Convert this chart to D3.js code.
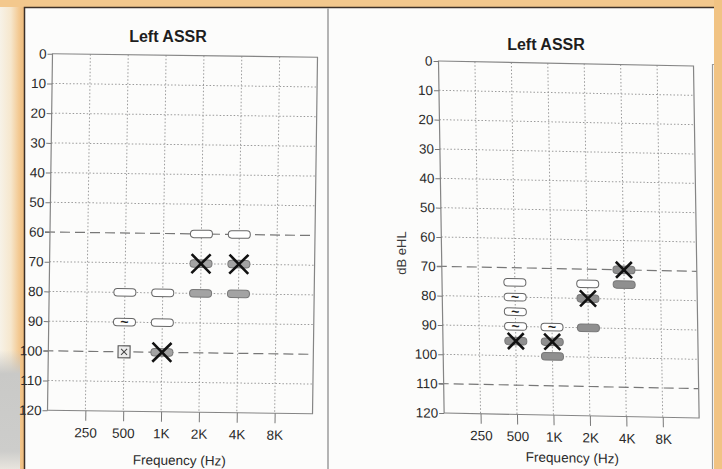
<!DOCTYPE html>
<html>
<head>
<meta charset="utf-8">
<script src="https://cdn.jsdelivr.net/npm/d3@7"></script>
<style>
body { margin: 0; background: #fff; }
svg { display: block; font-family: "Liberation Sans", Arial, sans-serif; }
</style>
</head>
<body>
<svg width="722" height="469"></svg>
<script>
// axes
const freqs = [250, 500, 1000, 2000, 4000, 8000];
const freqLabels = ["250", "500", "1K", "2K", "4K", "8K"];
const dbTicks = [0, 10, 20, 30, 40, 50, 60, 70, 80, 90, 100, 110, 120];

// left chart markers: [freq, dB]
const leftOpen = [[2000, 60], [4000, 60], [500, 80], [1000, 80], [1000, 90]];
const leftOpenTilde = [[500, 90]];
const leftFilled = [[2000, 80], [4000, 80]];
const leftFilledX = [[2000, 70], [4000, 70], [1000, 100]];
const leftBoxed = [[500, 100]];
const leftDashed = [60, 100];

// right chart markers
const rightOpen = [[500, 75], [2000, 75]];
const rightOpenTilde = [[500, 80], [500, 85], [500, 90], [1000, 90]];
const rightFilled = [[1000, 100], [2000, 90], [4000, 75]];
const rightFilledX = [[500, 95], [1000, 95], [2000, 80], [4000, 70]];
const rightBoxed = [];
const rightDashed = [70, 110];

const svg = d3.select("svg");
const defs = svg.append("defs");

// --- photo background (paper, orange frame) ---
const gl = defs.append("linearGradient").attr("id", "leftEdge");
gl.append("stop").attr("offset", 0).attr("stop-color", "#f7f2e7");
gl.append("stop").attr("offset", 0.45).attr("stop-color", "#f6e7cd");
gl.append("stop").attr("offset", 0.8).attr("stop-color", "#f3c890");
gl.append("stop").attr("offset", 1).attr("stop-color", "#eebb7c");

const gg = defs.append("linearGradient").attr("id", "grayBlur")
    .attr("x1", 0).attr("y1", 0).attr("x2", 0).attr("y2", 1);
gg.append("stop").attr("offset", 0).attr("stop-color", "#c8c8c6").attr("stop-opacity", 0);
gg.append("stop").attr("offset", 0.2).attr("stop-color", "#c9c9c7").attr("stop-opacity", 1);
gg.append("stop").attr("offset", 0.85).attr("stop-color", "#cdcdcb").attr("stop-opacity", 1);
gg.append("stop").attr("offset", 1).attr("stop-color", "#e8e5de").attr("stop-opacity", 1);

svg.append("rect").attr("width", 722).attr("height", 469).attr("fill", "#fcfcfb");
svg.append("rect").attr("width", 24).attr("height", 469).attr("fill", "url(#leftEdge)");
svg.append("rect").attr("y", 350).attr("width", 20).attr("height", 119).attr("fill", "url(#grayBlur)");
svg.append("rect").attr("width", 722).attr("height", 7).attr("fill", "#f3c88d");
svg.append("rect").attr("x", 714).attr("width", 8).attr("height", 469).attr("fill", "#f1c383");
svg.append("path").attr("d", "M24.5,469V7.5H714").attr("fill", "none")
    .attr("stroke", "#3d3128").attr("stroke-width", 1.5);
svg.append("line").attr("x1", 328).attr("x2", 328).attr("y1", 8).attr("y2", 469)
    .attr("stroke", "#b4b4b4").attr("stroke-width", 2);
svg.append("path").attr("d", "M714,64.5H712.5V469").attr("fill", "none")
    .attr("stroke", "#9a9a9a").attr("stroke-width", 1.2);

// --- one audiogram ---
function drawPanel(p) {
    const x = d3.scaleLog().base(2).domain([125, 16000]).range([0, p.w]);
    const y = d3.scaleLinear().domain([0, 120]).range([0, p.h]);
    const g = svg.append("g").attr("transform", `matrix(${p.m.join(",")})`);

    // grid
    g.selectAll(".vgrid").data(freqs).enter().append("line")
        .attr("x1", d => x(d)).attr("x2", d => x(d)).attr("y1", 0).attr("y2", p.h)
        .attr("stroke", "#9a9a9a").attr("stroke-dasharray", "1.5,2");
    g.selectAll(".hgrid").data(dbTicks.filter(d => d > 0 && d < 120 && !p.dashed.includes(d))).enter().append("line")
        .attr("x1", 0).attr("x2", p.w).attr("y1", d => y(d)).attr("y2", d => y(d))
        .attr("stroke", "#9a9a9a").attr("stroke-dasharray", "1.5,2");
    g.selectAll(".dash").data(p.dashed).enter().append("line")
        .attr("x1", -5).attr("x2", p.w).attr("y1", d => y(d)).attr("y2", d => y(d))
        .attr("stroke", "#777").attr("stroke-width", 1.2).attr("stroke-dasharray", "10,5");

    // frame
    g.append("rect").attr("width", p.w).attr("height", p.h)
        .attr("fill", "none").attr("stroke", "#858585").attr("stroke-width", 1.2);

    // y axis
    const ya = g.append("g").call(d3.axisLeft(y).tickValues(dbTicks).tickSize(5).tickPadding(1));
    ya.select(".domain").remove();
    ya.selectAll("line").attr("stroke", "#777");
    ya.selectAll("text").attr("font-size", 13.5).attr("fill", "#2a2a2a")
        .attr("font-family", "Liberation Sans, Arial, sans-serif");

    // x axis
    const xa = g.append("g").attr("transform", `translate(0,${p.h})`)
        .call(d3.axisBottom(x).tickValues(freqs).tickFormat((d, i) => freqLabels[i]).tickSize(10).tickPadding(7));
    xa.select(".domain").remove();
    xa.selectAll("line").attr("stroke", "#777");
    xa.selectAll("text").attr("font-size", 13.5).attr("fill", "#2a2a2a")
        .attr("font-family", "Liberation Sans, Arial, sans-serif");

    g.append("text").attr("x", p.w / 2).attr("y", p.h + p.labelY).attr("text-anchor", "middle")
        .attr("font-size", 13.5).attr("fill", "#2a2a2a").text("Frequency (Hz)");

    // markers
    const rw = 22, rh = 7.5;
    function pills(data, fill, stroke) {
        g.selectAll(null).data(data).enter().append("rect")
            .attr("x", d => x(d[0]) - rw / 2).attr("y", d => y(d[1]) - rh / 2)
            .attr("width", rw).attr("height", rh).attr("rx", 3.5)
            .attr("fill", fill).attr("stroke", stroke).attr("stroke-width", 1);
    }
    pills(p.open, "#fff", "#666");
    pills(p.openTilde, "#fff", "#666");
    pills(p.filled, p.grey, "#777");
    pills(p.filledX, p.grey, "#777");

    g.selectAll(null).data(p.openTilde).enter().append("text")
        .attr("x", d => x(d[0])).attr("y", d => y(d[1]) + 4.5)
        .attr("text-anchor", "middle").attr("font-size", 14).attr("font-weight", "bold")
        .attr("fill", "#222").text("~");

    const s = p.xs;
    g.selectAll(null).data(p.filledX).enter().append("path")
        .attr("d", d => `M${x(d[0]) - s},${y(d[1]) - s}L${x(d[0]) + s},${y(d[1]) + s}M${x(d[0]) + s},${y(d[1]) - s}L${x(d[0]) - s},${y(d[1]) + s}`)
        .attr("stroke", "#111").attr("stroke-width", 2.6).attr("fill", "none");

    const b = g.selectAll(null).data(p.boxed).enter().append("g")
        .attr("transform", d => `translate(${x(d[0])},${y(d[1])})`);
    b.append("rect").attr("x", -6).attr("y", -6).attr("width", 12).attr("height", 12)
        .attr("fill", "#ececec").attr("stroke", "#555").attr("stroke-width", 1.1);
    b.append("path").attr("d", "M-3,-3L3,3M3,-3L-3,3").attr("stroke", "#444").attr("stroke-width", 1);
}

drawPanel({
    w: 265, h: 356.5, m: [1, 0.0132, -0.014, 1, 52.5, 53.75], xs: 9.5, grey: "#a3a3a3", labelY: 53,
    open: leftOpen, openTilde: leftOpenTilde, filled: leftFilled, filledX: leftFilledX,
    boxed: leftBoxed, dashed: leftDashed
});
drawPanel({
    w: 255, h: 352, m: [1, 0.0196, 0.016, 1, 438.5, 61], xs: 8, grey: "#8f8f8f", labelY: 47,
    open: rightOpen, openTilde: rightOpenTilde, filled: rightFilled, filledX: rightFilledX,
    boxed: rightBoxed, dashed: rightDashed
});

// titles and y label
svg.append("text").attr("x", 168).attr("y", 42).attr("text-anchor", "middle")
    .attr("font-size", 16).attr("font-weight", "bold").attr("fill", "#1e1e1e").text("Left ASSR");
svg.append("text").attr("x", 546).attr("y", 50).attr("text-anchor", "middle")
    .attr("font-size", 16).attr("font-weight", "bold").attr("fill", "#1e1e1e").text("Left ASSR");
svg.append("text").attr("transform", "translate(406,253) rotate(-90)").attr("text-anchor", "middle")
    .attr("font-size", 13).attr("fill", "#3a3a3a").text("dB eHL");
</script>
</body>
</html>
